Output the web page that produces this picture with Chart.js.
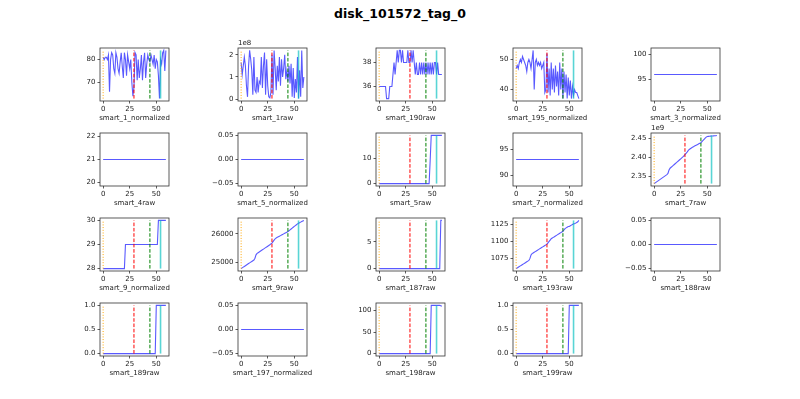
<!DOCTYPE html>
<html>
<head>
<meta charset="utf-8">
<script src="https://cdn.jsdelivr.net/npm/chart.js@4.4.0/dist/chart.umd.min.js"></script>
<style>
  html, body { margin: 0; padding: 0; background: #fff; }
  body { width: 800px; height: 399px; position: relative; overflow: hidden; font-family: "DejaVu Sans", sans-serif; }
  #title { position: absolute; left: 0; width: 800px; top: 6px; text-align: center; font-weight: bold; font-size: 12.5px; color: #000; }
  .cell { position: absolute; }
</style>
</head>
<body>
<div id="title">disk_101572_tag_0</div>
<script>
// ---- data ----
const NAMES = [
    'smart_1_normalized', 'smart_1raw', 'smart_190raw', 'smart_195_normalized', 'smart_3_normalized',
    'smart_4raw', 'smart_5_normalized', 'smart_5raw', 'smart_7_normalized', 'smart_7raw',
    'smart_9_normalized', 'smart_9raw', 'smart_187raw', 'smart_193raw', 'smart_188raw',
    'smart_189raw', 'smart_197_normalized', 'smart_198raw', 'smart_199raw'
];

const S1_NORM = [
    81, 80, 81, 81, 80, 82, 66, 80, 83, 82,
    76, 74, 83, 81, 76, 74, 79, 83, 77, 72,
    83, 80, 73, 82, 79, 76, 80, 70, 64, 68,
    83, 82, 71, 80, 72, 76, 82, 71, 79, 83,
    72, 78, 82, 80, 79, 82, 80, 78, 82, 76,
    80, 79, 73, 63, 80, 78, 83, 84, 75, 84];
// units of 1e8
const S1_RAW = [
    1.65, 1.1, 1.5, 1.9, 1.5, 0.6, 0.1, 1.5, 2.2, 1.8,
    1.3, 0.2, 1.9, 0.4, 0.3, 1.0, 0.3, 0.8, 0.7, 1.9,
    0.5, 1.5, 2.1, 0.2, 1.8, 0.6, 0.1, 0.05, 0.3, 2.0,
    0.2, 2.2, 1.4, 0.4, 1.5, 0.8, 1.9, 0.6, 1.8, 1.0,
    1.4, 2.0, 0.9, 1.3, 0.8, 1.5, 0.7, 1.6, 0.1, 1.4,
    0.05, 0.9, 0.3, 1.9, 0.02, 1.3, 0.1, 2.2, 0.5, 1.0];
const S190_RAW = [
    36, 36, 36, 36, 36, 36, 36, 35, 35, 35,
    36, 36, 36, 37, 38, 37, 38, 39, 38, 39,
    39, 38, 39, 38, 38, 38, 38, 39, 38, 38,
    39, 38, 39, 38, 37, 38, 37, 37, 38, 37,
    38, 37, 38, 37, 38, 37, 38, 37, 38, 37,
    38, 37, 38, 38, 37, 38, 37, 37, 37, 37];
const S195_NORM = [
    47, 48, 47, 49, 50, 49, 51, 50, 49, 48,
    46, 49, 50, 49, 47, 50, 53, 40, 49, 50,
    48, 49, 48, 49, 47, 48, 49, 39, 40, 52,
    39, 47, 38, 49, 40, 47, 39, 48, 41, 46,
    38, 49, 40, 47, 37, 46, 39, 45, 37, 44,
    38, 43, 37, 41, 38, 40, 39, 39, 38, 37];
const S3_NORM = [
    96, 96, 96, 96, 96, 96, 96, 96, 96, 96,
    96, 96, 96, 96, 96, 96, 96, 96, 96, 96,
    96, 96, 96, 96, 96, 96, 96, 96, 96, 96,
    96, 96, 96, 96, 96, 96, 96, 96, 96, 96,
    96, 96, 96, 96, 96, 96, 96, 96, 96, 96,
    96, 96, 96, 96, 96, 96, 96, 96, 96, 96];
const S4_RAW = [
    21, 21, 21, 21, 21, 21, 21, 21, 21, 21,
    21, 21, 21, 21, 21, 21, 21, 21, 21, 21,
    21, 21, 21, 21, 21, 21, 21, 21, 21, 21,
    21, 21, 21, 21, 21, 21, 21, 21, 21, 21,
    21, 21, 21, 21, 21, 21, 21, 21, 21, 21,
    21, 21, 21, 21, 21, 21, 21, 21, 21, 21];
const S5_NORM = [
    0, 0, 0, 0, 0, 0, 0, 0, 0, 0,
    0, 0, 0, 0, 0, 0, 0, 0, 0, 0,
    0, 0, 0, 0, 0, 0, 0, 0, 0, 0,
    0, 0, 0, 0, 0, 0, 0, 0, 0, 0,
    0, 0, 0, 0, 0, 0, 0, 0, 0, 0,
    0, 0, 0, 0, 0, 0, 0, 0, 0, 0];
const S5_RAW = [
    0, 0, 0, 0, 0, 0, 0, 0, 0, 0,
    0, 0, 0, 0, 0, 0, 0, 0, 0, 0,
    0, 0, 0, 0, 0, 0, 0, 0, 0, 0,
    0, 0, 0, 0, 0, 0, 0, 0, 0, 0,
    0, 0, 0, 0, 0, 0, 0, 0, 9, 19,
    19, 19, 19, 19, 19, 19, 19, 19, 19, 19];
const S7_NORM = [
    93, 93, 93, 93, 93, 93, 93, 93, 93, 93,
    93, 93, 93, 93, 93, 93, 93, 93, 93, 93,
    93, 93, 93, 93, 93, 93, 93, 93, 93, 93,
    93, 93, 93, 93, 93, 93, 93, 93, 93, 93,
    93, 93, 93, 93, 93, 93, 93, 93, 93, 93,
    93, 93, 93, 93, 93, 93, 93, 93, 93, 93];
// units of 1e9
const S7_RAW = [
    2.3300, 2.3320, 2.3340, 2.3360, 2.3380, 2.3400, 2.3420, 2.3440, 2.3460, 2.3480,
    2.3500, 2.3520, 2.3540, 2.3570, 2.3660, 2.3710, 2.3735, 2.3760, 2.3785, 2.3810,
    2.3835, 2.3860, 2.3885, 2.3910, 2.3935, 2.3960, 2.3985, 2.4010, 2.4040, 2.4070,
    2.4105, 2.4140, 2.4180, 2.4210, 2.4230, 2.4250, 2.4270, 2.4285, 2.4300, 2.4315,
    2.4330, 2.4345, 2.4360, 2.4375, 2.4390, 2.4420, 2.4450, 2.4480, 2.4510, 2.4540,
    2.4555, 2.4560, 2.4563, 2.4566, 2.4568, 2.4570, 2.4572, 2.4574, 2.4578, 2.4585];
const S9_NORM = [
    28, 28, 28, 28, 28, 28, 28, 28, 28, 28,
    28, 28, 28, 28, 28, 28, 28, 28, 28, 28,
    28, 29, 29, 29, 29, 29, 29, 29, 29, 29,
    29, 29, 29, 29, 29, 29, 29, 29, 29, 29,
    29, 29, 29, 29, 29, 29, 29, 29, 29, 29,
    29, 29, 30, 30, 30, 30, 30, 30, 30, 30];
const S9_RAW = [
    24790, 24815, 24840, 24865, 24890, 24915, 24940, 24965, 24990, 25015,
    25040, 25065, 25090, 25150, 25270, 25320, 25345, 25370, 25395, 25420,
    25445, 25470, 25495, 25520, 25545, 25570, 25595, 25620, 25650, 25680,
    25730, 25780, 25830, 25860, 25880, 25900, 25920, 25940, 25960, 25980,
    26000, 26020, 26040, 26060, 26080, 26110, 26140, 26170, 26200, 26230,
    26260, 26290, 26320, 26350, 26370, 26390, 26410, 26430, 26450, 26470];
const S187_RAW = [
    0, 0, 0, 0, 0, 0, 0, 0, 0, 0,
    0, 0, 0, 0, 0, 0, 0, 0, 0, 0,
    0, 0, 0, 0, 0, 0, 0, 0, 0, 0,
    0, 0, 0, 0, 0, 0, 0, 0, 0, 0,
    0, 0, 0, 0, 0, 0, 0, 0, 0, 0,
    0, 0, 0, 0, 0, 0, 0, 0, 9, 9];
const S193_RAW = [
    1060, 1061, 1062, 1063, 1064, 1065, 1066, 1067, 1068, 1069,
    1070, 1071, 1072, 1075, 1080, 1082, 1083, 1084, 1085, 1086,
    1087, 1088, 1089, 1090, 1091, 1092, 1093, 1094, 1095, 1096,
    1098, 1100, 1102, 1104, 1105, 1106, 1107, 1108, 1109, 1110,
    1111, 1112, 1113, 1114, 1115, 1117, 1119, 1120, 1121, 1122,
    1122, 1123, 1124, 1125, 1126, 1126, 1127, 1128, 1129, 1131];
const S188_RAW = [
    0, 0, 0, 0, 0, 0, 0, 0, 0, 0,
    0, 0, 0, 0, 0, 0, 0, 0, 0, 0,
    0, 0, 0, 0, 0, 0, 0, 0, 0, 0,
    0, 0, 0, 0, 0, 0, 0, 0, 0, 0,
    0, 0, 0, 0, 0, 0, 0, 0, 0, 0,
    0, 0, 0, 0, 0, 0, 0, 0, 0, 0];
const S189_RAW = [
    0, 0, 0, 0, 0, 0, 0, 0, 0, 0,
    0, 0, 0, 0, 0, 0, 0, 0, 0, 0,
    0, 0, 0, 0, 0, 0, 0, 0, 0, 0,
    0, 0, 0, 0, 0, 0, 0, 0, 0, 0,
    0, 0, 0, 0, 0, 0, 0, 0, 0, 0,
    1, 1, 1, 1, 1, 1, 1, 1, 1, 1];
const S197_NORM = [
    0, 0, 0, 0, 0, 0, 0, 0, 0, 0,
    0, 0, 0, 0, 0, 0, 0, 0, 0, 0,
    0, 0, 0, 0, 0, 0, 0, 0, 0, 0,
    0, 0, 0, 0, 0, 0, 0, 0, 0, 0,
    0, 0, 0, 0, 0, 0, 0, 0, 0, 0,
    0, 0, 0, 0, 0, 0, 0, 0, 0, 0];
const S198_RAW = [
    0, 0, 0, 0, 0, 0, 0, 0, 0, 0,
    0, 0, 0, 0, 0, 0, 0, 0, 0, 0,
    0, 0, 0, 0, 0, 0, 0, 0, 0, 0,
    0, 0, 0, 0, 0, 0, 0, 0, 0, 0,
    0, 0, 0, 0, 0, 0, 0, 0, 0, 112,
    112, 112, 112, 112, 112, 112, 112, 112, 111, 110];
const S199_RAW = [
    0, 0, 0, 0, 0, 0, 0, 0, 0, 0,
    0, 0, 0, 0, 0, 0, 0, 0, 0, 0,
    0, 0, 0, 0, 0, 0, 0, 0, 0, 0,
    0, 0, 0, 0, 0, 0, 0, 0, 0, 0,
    0, 0, 0, 0, 0, 0, 0, 0, 0, 0,
    1, 1, 1, 1, 1, 1, 1, 1, 1, 1];

const SERIES = [
    S1_NORM, S1_RAW, S190_RAW, S195_NORM, S3_NORM,
    S4_RAW, S5_NORM, S5_RAW, S7_NORM, S7_RAW,
    S9_NORM, S9_RAW, S187_RAW, S193_RAW, S188_RAW,
    S189_RAW, S197_NORM, S198_RAW, S199_RAW
];

const Y_TICKS = [
    [70, 80], [0, 1, 2], [36, 38], [40, 50], [95, 100],
    [20, 21, 22], [-0.05, 0, 0.05], [0, 10], [90, 95], [2.35, 2.40, 2.45],
    [28, 29, 30], [25000, 26000], [0, 5], [1075, 1100, 1125], [-0.05, 0, 0.05],
    [0, 0.5, 1], [-0.05, 0, 0.05], [0, 50, 100], [0, 0.5, 1]
];
const Y_DECIMALS = [0, 0, 0, 0, 0, 0, 2, 0, 0, 2, 0, 0, 0, 0, 2, 1, 2, 0, 1];
const OFFSET_LABELS = ['', '1e8', '', '', '', '', '', '', '', '1e9', '', '', '', '', '', '', '', '', ''];
const X_TICKS = [0, 25, 50];

// event markers: x position of each vertical line
const EVENT_X = [0, 29, 44, 54];
const EVENT_COLORS = ['#ffa500', '#ff0000', '#008000', 'rgba(0,191,191,0.65)'];
const EVENT_DASH = [[1, 1.7], [3.6, 1.7], [3.6, 1.7], []];
const EVENT_WIDTH = [1, 1, 1, 1.6];

// ---- layout (matplotlib 4x5 subplots) ----
const N_COLS = 5;
const GRID_LEFT = 100, COL_PITCH = 137.78, BOX_W = 69;
const GRID_TOP = 48, ROW_PITCH = 85, BOX_H = 53;
const PAD_L = 45, PAD_T = 12, PAD_R = 22, PAD_B = 23;
const LINE_COLOR = 'rgba(0,0,255,0.65)';
const TEXT_COLOR = '#222';
const FONT_PX = 7;
const FONT = { family: '"DejaVu Sans", sans-serif', size: FONT_PX };

// matplotlib autoscale: nonsingular expansion then 5% margins
function mplLimits(vals) {
    let lo = Math.min(...vals), hi = Math.max(...vals);
    if (hi - lo < 1e-12) {
        if (lo === 0) { lo = -0.05; hi = 0.05; }
        else { lo -= 0.05 * Math.abs(lo); hi += 0.05 * Math.abs(hi); }
    }
    const m = (hi - lo) * 0.05;
    return [lo - m, hi + m];
}

const fmt = (v, d) => v.toFixed(d).replace('-', '\u2212');

// spines, x label and offset text (e.g. "1e8")
const framePlugin = {
    id: 'frame',
    afterDatasetsDraw(chart, args, opts) {
        const { ctx, chartArea: a } = chart;
        ctx.save();
        ctx.strokeStyle = '#333';
        ctx.lineWidth = 0.8;
        ctx.strokeRect(a.left, a.top, a.right - a.left, a.bottom - a.top);
        ctx.fillStyle = TEXT_COLOR;
        ctx.font = FONT_PX + 'px "DejaVu Sans"';
        ctx.textAlign = 'center';
        ctx.textBaseline = 'middle';
        ctx.fillText(opts.label, (a.left + a.right) / 2, a.bottom + 17.5);
        if (opts.offset) {
            ctx.textAlign = 'left';
            ctx.textBaseline = 'bottom';
            ctx.fillText(opts.offset, a.left, a.top - 1.5);
        }
        ctx.restore();
    }
};

SERIES.forEach((vals, i) => {
    const r = Math.floor(i / N_COLS), c = i % N_COLS;
    const boxL = Math.round(GRID_LEFT + c * COL_PITCH);
    const boxT = Math.round(GRID_TOP + r * ROW_PITCH);

    const div = document.createElement('div');
    div.className = 'cell';
    div.style.left = (boxL - PAD_L) + 'px';
    div.style.top = (boxT - PAD_T) + 'px';
    const canvas = document.createElement('canvas');
    canvas.width = PAD_L + BOX_W + PAD_R;
    canvas.height = PAD_T + BOX_H + PAD_B;
    div.appendChild(canvas);
    document.body.appendChild(div);

    const xs = vals.map((_, k) => k);
    const [xMin, xMax] = mplLimits(xs);
    const [yMin, yMax] = mplLimits(vals);
    const lo = Math.min(...vals), hi = Math.max(...vals);

    const datasets = [{
        data: vals.map((v, k) => ({ x: k, y: v })),
        borderColor: LINE_COLOR,
        borderWidth: 1.1,
        pointRadius: 0,
        tension: 0,
        order: 5
    }];
    EVENT_X.forEach((ex, j) => {
        datasets.push({
            data: [{ x: ex, y: lo }, { x: ex, y: hi }],
            borderColor: EVENT_COLORS[j],
            borderDash: EVENT_DASH[j],
            borderWidth: EVENT_WIDTH[j],
            pointRadius: 0,
            order: 1
        });
    });

    const tickGrid = { display: true, drawOnChartArea: false, drawTicks: true, tickLength: 2.5, color: '#333', lineWidth: 0.8 };

    new Chart(canvas.getContext('2d'), {
        type: 'line',
        data: { datasets },
        options: {
            responsive: false,
            animation: false,
            events: [],
            layout: { padding: { top: PAD_T, right: PAD_R, left: 0, bottom: 0 } },
            plugins: {
                legend: { display: false },
                tooltip: { enabled: false },
                frame: { offset: OFFSET_LABELS[i], label: NAMES[i] }
            },
            scales: {
                x: {
                    type: 'linear',
                    min: xMin,
                    max: xMax,
                    afterBuildTicks: s => { s.ticks = X_TICKS.map(v => ({ value: v })); },
                    afterFit: s => { s.height = PAD_B; },
                    grid: tickGrid,
                    border: { display: false },
                    ticks: { font: FONT, color: TEXT_COLOR, padding: 1.5, maxRotation: 0, autoSkip: false, callback: v => String(v) }
                },
                y: {
                    type: 'linear',
                    min: yMin,
                    max: yMax,
                    afterBuildTicks: s => { s.ticks = Y_TICKS[i].map(v => ({ value: v })); },
                    afterFit: s => { s.width = PAD_L; },
                    grid: tickGrid,
                    border: { display: false },
                    ticks: { font: FONT, color: TEXT_COLOR, padding: 2, autoSkip: false, callback: v => fmt(v, Y_DECIMALS[i]) }
                }
            }
        },
        plugins: [framePlugin]
    });
});
</script>
</body>
</html>
